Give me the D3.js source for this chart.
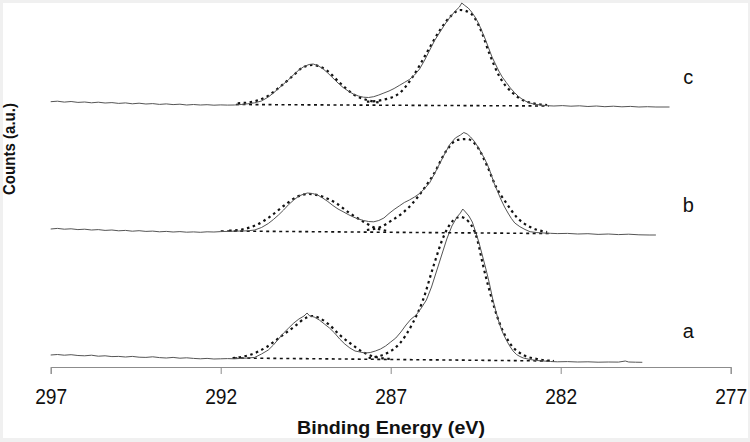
<!DOCTYPE html>
<html>
<head>
<meta charset="utf-8">
<script src="https://cdn.jsdelivr.net/npm/d3@7"></script>
<style>
  body { margin: 0; background: #f0f0f0; }
  svg { display: block; }
</style>
</head>
<body>
<div id="chart"></div>
<script>
// x axis ticks (binding energy, eV)
const xTicks = [297, 292, 287, 282, 277];

// vertical stacking offset of each trace (a.u.)
const traceLabels = ['a', 'b', 'c'];
const traceOffsets = [0, 126, 254];

// measured spectra [energy, counts above own offset]
const spectrumA = [
  [297.0, 12], [296.8, 12.5], [296.6, 11.8], [296.4, 12.3], [296.2, 11.5], [296.0, 11.2], [295.8, 11.8],
  [295.6, 10.8], [295.4, 11.2], [295.2, 10.4], [295.0, 10.6], [294.8, 10.0], [294.6, 10.6], [294.4, 9.8],
  [294.2, 9.6], [294.0, 10.2], [293.8, 9.4], [293.6, 9.0], [293.4, 9.6], [293.2, 8.8], [293.0, 9.2],
  [292.8, 8.6], [292.6, 8.2], [292.4, 8.6], [292.2, 8.0], [292.0, 8.2], [291.8, 8.4], [291.6, 8.2],
  [291.4, 8.6], [291.2, 9.0], [291.0, 9.6], [290.8, 13], [290.6, 17], [290.45, 22], [290.3, 28],
  [290.15, 34], [290.0, 39], [289.85, 44], [289.7, 48], [289.55, 51], [289.46, 54], [289.38, 51],
  [289.25, 50], [289.1, 47], [288.95, 43], [288.8, 39], [288.65, 34], [288.5, 28], [288.35, 23],
  [288.2, 19], [288.05, 16], [287.9, 15], [287.75, 14], [287.6, 14.5], [287.45, 16], [287.3, 18],
  [287.15, 21], [287.0, 25], [286.85, 29], [286.7, 35], [286.55, 42], [286.4, 48], [286.25, 52],
  [286.1, 59], [285.95, 67], [285.8, 80], [285.65, 96], [285.5, 112], [285.35, 128], [285.2, 141],
  [285.05, 150], [284.95, 154], [284.88, 158], [284.8, 155], [284.7, 151], [284.6, 145], [284.5, 135],
  [284.4, 124], [284.3, 111], [284.2, 98], [284.1, 84], [284.0, 68], [283.9, 55], [283.8, 43],
  [283.7, 34], [283.6, 27], [283.5, 21], [283.4, 16], [283.3, 12.5], [283.2, 10.5], [283.1, 9],
  [282.9, 7.5], [282.7, 6.5], [282.5, 6], [282.3, 5.5], [282.1, 5.2], [281.8, 5.4], [281.5, 5],
  [281.2, 5.2], [280.9, 4.8], [280.6, 5], [280.3, 4.9], [280.1, 6], [280.0, 5], [279.8, 4.8], [279.6, 4.7]
];
const spectrumB = [
  [297.0, 12], [296.8, 12.6], [296.6, 11.8], [296.4, 12.2], [296.2, 11.4], [296.0, 11.8], [295.8, 11.0],
  [295.6, 11.4], [295.4, 10.6], [295.2, 11.0], [295.0, 10.2], [294.8, 10.6], [294.6, 9.8], [294.4, 10.3],
  [294.2, 9.6], [294.0, 9.9], [293.8, 9.2], [293.6, 9.6], [293.4, 9.0], [293.2, 9.4], [293.0, 8.8],
  [292.8, 9.1], [292.6, 8.7], [292.4, 9.2], [292.2, 9.0], [292.0, 9.4], [291.8, 9.6], [291.6, 9.8],
  [291.4, 10.0], [291.2, 10.2], [291.0, 11], [290.8, 13.5], [290.6, 17.5], [290.45, 21.5], [290.3, 26],
  [290.15, 31], [290.0, 36.5], [289.85, 41], [289.7, 45], [289.55, 47], [289.45, 48], [289.3, 47.5],
  [289.15, 46], [289.0, 43], [288.85, 39.5], [288.7, 35.5], [288.55, 32], [288.4, 29.3], [288.25, 26.5],
  [288.1, 24], [287.95, 22], [287.8, 20.5], [287.65, 19.5], [287.5, 19.2], [287.35, 20.5], [287.2, 23],
  [287.05, 27.5], [286.9, 31.5], [286.75, 35], [286.6, 38.5], [286.45, 41], [286.3, 44], [286.15, 47.5],
  [286.0, 52.5], [285.85, 58.5], [285.7, 68], [285.55, 78], [285.4, 88], [285.25, 97], [285.1, 103],
  [284.95, 106], [284.85, 108.5], [284.75, 107], [284.65, 104], [284.55, 100], [284.45, 95], [284.35, 89],
  [284.25, 83], [284.15, 76], [284.05, 67], [283.95, 57], [283.85, 49], [283.75, 41], [283.65, 34],
  [283.55, 28], [283.45, 22.5], [283.35, 18], [283.2, 14.3], [283.05, 11.5], [282.9, 9.3], [282.7, 8.4],
  [282.5, 8.0], [282.3, 7.7], [282.1, 7.4], [281.8, 7.6], [281.5, 7.0], [281.2, 7.3], [280.9, 6.6],
  [280.6, 7.0], [280.3, 6.4], [280.0, 6.8], [279.7, 6.2], [279.4, 6.0], [279.2, 6.0]
];
const spectrumC = [
  [297.0, 11.3], [296.8, 11.8], [296.6, 10.9], [296.4, 11.5], [296.2, 10.6], [296.0, 11.0], [295.8, 10.2],
  [295.6, 10.8], [295.4, 10.0], [295.2, 10.4], [295.0, 9.6], [294.8, 10.1], [294.6, 9.2], [294.4, 9.8],
  [294.2, 9.0], [294.0, 9.4], [293.8, 8.6], [293.6, 9.1], [293.4, 8.4], [293.2, 8.8], [293.0, 8.0],
  [292.8, 8.5], [292.6, 8.0], [292.4, 8.3], [292.2, 7.8], [292.0, 8.1], [291.8, 7.9], [291.6, 8.0],
  [291.4, 8.5], [291.2, 9.2], [291.0, 10.2], [290.8, 12], [290.6, 16], [290.45, 20], [290.3, 24.5],
  [290.15, 29], [290.0, 33.5], [289.85, 38.5], [289.7, 43], [289.55, 46.5], [289.4, 48.5], [289.28, 49],
  [289.15, 47.5], [289.0, 44.5], [288.85, 40], [288.7, 35], [288.55, 30], [288.4, 25.5], [288.25, 22],
  [288.1, 19], [287.95, 17], [287.8, 15.8], [287.65, 15.5], [287.5, 16.3], [287.35, 18], [287.2, 20],
  [287.05, 22], [286.9, 24.5], [286.75, 27.5], [286.6, 30.5], [286.45, 33.5], [286.3, 38], [286.15, 44],
  [286.0, 53], [285.85, 63], [285.7, 73], [285.55, 81], [285.4, 89], [285.25, 96], [285.1, 102],
  [284.98, 106], [284.91, 110], [284.82, 107.5], [284.72, 105], [284.62, 101], [284.52, 96], [284.42, 90],
  [284.32, 82], [284.22, 74], [284.12, 65], [284.02, 56], [283.92, 49], [283.82, 42], [283.72, 36],
  [283.6, 30.5], [283.48, 25], [283.36, 20.5], [283.24, 16.5], [283.1, 13], [282.95, 10.5], [282.8, 9],
  [282.6, 8], [282.4, 7.3], [282.2, 7.0], [281.95, 7.4], [281.7, 6.8], [281.45, 7.2], [281.2, 6.5],
  [280.95, 7.0], [280.7, 6.3], [280.45, 6.8], [280.2, 6.2], [279.95, 6.6], [279.7, 6.0], [279.45, 6.3],
  [279.2, 6.0], [278.8, 6.0]
];

// fitted components (dotted)
const fitA1 = [
  [291.65, 9], [291.15, 12], [290.65, 20], [290.25, 30], [289.85, 40], [289.5, 49], [289.3, 51],
  [289.1, 49], [288.8, 42], [288.5, 32], [288.2, 24], [287.85, 15.5], [287.5, 10.5], [287.0, 8]
];
const fitA2 = [
  [287.65, 9], [287.1, 14], [286.75, 23], [286.35, 44], [286.05, 67], [285.75, 100], [285.45, 130],
  [285.15, 147], [284.95, 150], [284.7, 145], [284.45, 127], [284.3, 104], [284.1, 77], [283.8, 44],
  [283.5, 24], [283.1, 12], [282.7, 8], [282.2, 6]
];
const fitB1 = [
  [291.75, 10.3], [291.35, 11.7], [290.95, 16], [290.55, 24.3], [290.15, 35], [289.75, 44.3],
  [289.4, 47], [289.0, 44.3], [288.6, 37.7], [288.2, 27.7], [287.8, 19.3], [287.5, 13.7], [287.1, 10]
];
const fitB2 = [
  [287.7, 11], [287.3, 14], [286.95, 21], [286.65, 28], [286.35, 38], [286.05, 51], [285.75, 66],
  [285.35, 91], [285.05, 101], [284.75, 102], [284.45, 94], [284.15, 74], [283.9, 54], [283.6, 38],
  [283.3, 24], [282.9, 14], [282.4, 9]
];
const fitC1 = [
  [291.5, 9.7], [291.05, 11.3], [290.65, 16.3], [290.25, 26.3], [289.85, 38], [289.6, 45.3],
  [289.3, 48], [288.9, 43], [288.5, 30.3], [288.1, 18.7], [287.7, 13], [287.3, 10.3]
];
const fitC2 = [
  [287.7, 11.3], [287.25, 13], [286.75, 19.7], [286.35, 36.3], [285.95, 59.7], [285.55, 83],
  [285.25, 96.3], [284.95, 103], [284.65, 99.7], [284.35, 83], [284.1, 59.7], [283.8, 36.3],
  [283.4, 19.7], [283.0, 11.3], [282.4, 8]
];

// fit backgrounds
const baselineA = [[291.6, 9], [282.2, 6]];
const baselineB = [[292.0, 10], [282.35, 7.5]];
const baselineC = [[291.55, 8.5], [282.35, 7]];

const traces = [
  { spectrum: spectrumA, fits: [fitA1, fitA2], baseline: baselineA },
  { spectrum: spectrumB, fits: [fitB1, fitB2], baseline: baselineB },
  { spectrum: spectrumC, fits: [fitC1, fitC2], baseline: baselineC }
];

const width = 750;
const height = 442;
const font = 'Liberation Sans, Arial, sans-serif';

const svg = d3.select('#chart')
  .append('svg')
  .attr('width', width)
  .attr('height', height);

svg.append('rect')
  .attr('width', width)
  .attr('height', height)
  .attr('fill', '#f0f0f0');
svg.append('rect')
  .attr('x', 3)
  .attr('y', 3)
  .attr('width', 745)
  .attr('height', 435)
  .attr('fill', '#fff');

const x = d3.scaleLinear()
  .domain([297, 277])
  .range([50.7, 730.7]);

const y = d3.scaleLinear()
  .domain([0, 365])
  .range([367, 2]);

// x axis
const xAxis = svg.append('g')
  .attr('class', 'x axis')
  .attr('transform', `translate(0, ${y(0)})`)
  .call(d3.axisBottom(x).tickValues(xTicks).tickSize(7).tickPadding(15).tickFormat(d3.format('d')));

xAxis.select('.domain').attr('stroke', '#8c8c8c');
xAxis.selectAll('.tick line').attr('stroke', '#8c8c8c');
xAxis.selectAll('text')
  .attr('fill', '#111')
  .attr('textLength', 32)
  .attr('lengthAdjust', 'spacingAndGlyphs')
  .style('font-family', font)
  .style('font-size', '21.5px');

// traces
traces.forEach((t, i) => {
  const off = traceOffsets[i];
  const line = d3.line()
    .x(d => x(d[0]))
    .y(d => y(d[1] + off));
  const smooth = d3.line()
    .x(d => x(d[0]))
    .y(d => y(d[1] + off))
    .curve(d3.curveMonotoneX);

  const g = svg.append('g').attr('class', `trace trace-${traceLabels[i]}`);

  g.append('path')
    .datum(t.baseline)
    .attr('d', line)
    .attr('fill', 'none')
    .attr('stroke', '#111')
    .attr('stroke-width', 1.6)
    .attr('stroke-dasharray', '3,3.5');

  g.selectAll('path.fit')
    .data(t.fits)
    .enter()
    .append('path')
    .attr('class', 'fit')
    .attr('d', smooth)
    .attr('fill', 'none')
    .attr('stroke', '#111')
    .attr('stroke-width', 2.2)
    .attr('stroke-dasharray', '2.5,3.5');

  g.append('path')
    .datum(t.spectrum)
    .attr('d', line)
    .attr('fill', 'none')
    .attr('stroke', '#555')
    .attr('stroke-width', 1);

  g.append('text')
    .attr('x', x(278.25))
    .attr('y', y(off + 29))
    .attr('text-anchor', 'middle')
    .attr('fill', '#111')
    .style('font-family', font)
    .style('font-size', '20px')
    .text(traceLabels[i]);
});

// axis labels
svg.append('text')
  .attr('x', 391)
  .attr('y', 434)
  .attr('text-anchor', 'middle')
  .attr('textLength', 188)
  .attr('lengthAdjust', 'spacingAndGlyphs')
  .attr('fill', '#111')
  .style('font-family', font)
  .style('font-size', '19px')
  .style('font-weight', 'bold')
  .text('Binding Energy (eV)');

svg.append('text')
  .attr('transform', 'translate(15, 149) rotate(-90)')
  .attr('text-anchor', 'middle')
  .attr('textLength', 92)
  .attr('lengthAdjust', 'spacingAndGlyphs')
  .attr('fill', '#111')
  .style('font-family', font)
  .style('font-size', '17px')
  .style('font-weight', 'bold')
  .text('Counts (a.u.)');
</script>
</body>
</html>
